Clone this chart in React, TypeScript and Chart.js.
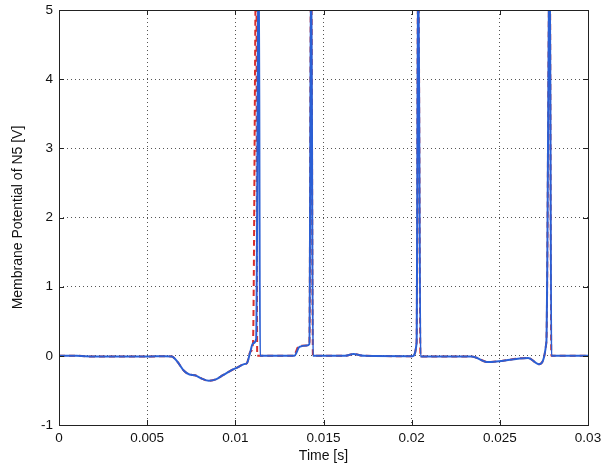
import React, { useEffect, useRef } from "react";
import { Chart, registerables } from "chart.js";

Chart.register(...registerables);

// Time [s] and membrane potential [V] for the blue (solid) trace
const blueT = [
  0, 0.001, 0.002, 0.003, 0.004, 0.005, 0.006, 0.0064, 0.0067, 0.0071, 0.0074, 0.0077, 0.0081, 0.0085,
  0.0089, 0.0093, 0.0097, 0.0101, 0.0105, 0.01066, 0.01085, 0.011, 0.01118, 0.01133, 0.0114,
  0.01334, 0.01364, 0.01406, 0.0142, 0.0143, 0.0144,
  0.0162, 0.0167, 0.0173, 0.02005, 0.02028, 0.02037, 0.0205,
  0.0234, 0.02433, 0.0266, 0.02722, 0.02764, 0.02783, 0.02792, 0.03,
];
const blueV = [
  0, 0, -0.01, -0.01, -0.01, -0.01, -0.005, -0.01, -0.08, -0.22, -0.27, -0.28, -0.33, -0.36,
  -0.34, -0.28, -0.22, -0.17, -0.12, -0.105, 0.06, 0.18, 0.24, 6, 0,
  0, 0.13, 0.15, 0.17, 6, 0,
  0, 0.025, 0, -0.005, 0.19, 6, -0.01,
  -0.01, -0.09, -0.03, -0.12, 0.2, 6, 0, 0,
];

// Red (dashed) trace: fires its first spike slightly earlier
const redT = [
  0, 0.001, 0.002, 0.003, 0.004, 0.005, 0.006, 0.0064, 0.0067, 0.0071, 0.0074, 0.0077, 0.0081, 0.0085,
  0.0089, 0.0093, 0.0097, 0.0101, 0.0105, 0.01066, 0.01085, 0.011, 0.01119, 0.01124,
  0.0133, 0.0136, 0.01406, 0.0142, 0.0143, 0.0144,
  0.0162, 0.0167, 0.0173, 0.02005, 0.02028, 0.02037, 0.0205,
  0.0234, 0.02433, 0.0266, 0.02722, 0.02764, 0.02783, 0.02792, 0.03,
];
const redV = [
  0, 0, -0.01, -0.01, -0.01, -0.01, -0.005, -0.01, -0.08, -0.22, -0.27, -0.28, -0.33, -0.36,
  -0.34, -0.28, -0.22, -0.17, -0.12, -0.105, 0.06, 0.18, 6, 0,
  0, 0.14, 0.15, 0.17, 6, 0,
  0, 0.025, 0, -0.005, 0.19, 6, -0.01,
  -0.01, -0.09, -0.03, -0.12, 0.2, 6, 0, 0,
];

const xTicks = [0, 0.005, 0.01, 0.015, 0.02, 0.025, 0.03];
const yTicks = [-1, 0, 1, 2, 3, 4, 5];
const xTitle = "Time [s]";
const yTitle = "Membrane Potential of N5 [V]";

const FONT = "'Liberation Sans', Arial, Helvetica, sans-serif";

const boxPlugin = {
  id: "matlabBox",
  afterDraw(chart: any) {
    const { ctx, chartArea } = chart;
    const { left, right, top, bottom } = chartArea;
    ctx.save();
    ctx.strokeStyle = "#222";
    ctx.lineWidth = 1;
    ctx.setLineDash([]);
    ctx.strokeRect(Math.round(left) + 0.5, Math.round(top) + 0.5, Math.round(right - left), Math.round(bottom - top));
    const tl = 5;
    const xs = chart.scales.x;
    const ys = chart.scales.y;
    ctx.beginPath();
    xs.ticks.forEach((t: any) => {
      const px = Math.round(xs.getPixelForValue(t.value)) + 0.5;
      ctx.moveTo(px, bottom);
      ctx.lineTo(px, bottom - tl);
      ctx.moveTo(px, top);
      ctx.lineTo(px, top + tl);
    });
    ys.ticks.forEach((t: any) => {
      const py = Math.round(ys.getPixelForValue(t.value)) + 0.5;
      ctx.moveTo(left, py);
      ctx.lineTo(left + tl, py);
      ctx.moveTo(right, py);
      ctx.lineTo(right - tl, py);
    });
    ctx.stroke();
    ctx.restore();
  },
};

export default function App() {
  const ref = useRef<HTMLCanvasElement | null>(null);
  useEffect(() => {
    if (!ref.current) return;
    const chart = new Chart(ref.current, {
      type: "scatter",
      data: {
        datasets: [
          {
            label: "blue",
            data: blueT.map((t, i) => ({ x: t, y: blueV[i] })),
            showLine: true,
            borderColor: "#2b5fd4",
            borderWidth: 2,
            pointRadius: 0,
            cubicInterpolationMode: "monotone",
            clip: 0 as any,
            order: 0,
          },
          {
            label: "red",
            data: redT.map((t, i) => ({ x: t, y: redV[i] })),
            showLine: true,
            borderColor: "#d9302c",
            borderWidth: 2,
            borderDash: [6, 4],
            pointRadius: 0,
            cubicInterpolationMode: "monotone",
            clip: 0 as any,
            order: 1,
          },
        ],
      },
      options: {
        responsive: false,
        animation: false,
        devicePixelRatio: 1,
        layout: { padding: { top: 10, right: 14, left: 0, bottom: 0 } },
        plugins: { legend: { display: false }, tooltip: { enabled: false } },
        scales: {
          x: {
            type: "linear",
            min: 0,
            max: 0.03,
            afterBuildTicks: (s: any) => {
              s.ticks = xTicks.map((v) => ({ value: v }));
            },
            afterFit: (s: any) => {
              s.height = 45;
              s.paddingLeft = 0;
              s.paddingRight = 0;
            },
            ticks: {
              color: "#111",
              font: { family: FONT, size: 13.5 },
              padding: 5,
              maxRotation: 0,
              autoSkip: false,
              callback: (v: any) => String(Number(Number(v).toFixed(4))),
            },
            grid: { color: "#555", lineWidth: 1, drawTicks: false },
            border: { display: false, dash: [1, 3] },
            title: {
              display: true,
              text: xTitle,
              color: "#111",
              font: { family: FONT, size: 14 },
              padding: { top: 5, bottom: 5 },
            },
          },
          y: {
            type: "linear",
            min: -1,
            max: 5,
            afterBuildTicks: (s: any) => {
              s.ticks = yTicks.map((v) => ({ value: v }));
            },
            afterFit: (s: any) => {
              s.width = 59;
              s.paddingTop = 0;
              s.paddingBottom = 0;
            },
            ticks: {
              color: "#111",
              font: { family: FONT, size: 13.5 },
              padding: 6,
              autoSkip: false,
              callback: (v: any) => String(v),
            },
            grid: { color: "#555", lineWidth: 1, drawTicks: false },
            border: { display: false, dash: [1, 3] },
            title: {
              display: true,
              text: yTitle,
              color: "#111",
              font: { family: FONT, size: 14 },
              padding: { top: 10, bottom: 10 },
            },
          },
        },
      },
      plugins: [boxPlugin],
    });
    return () => chart.destroy();
  }, []);
  return (
    <div style={{ position: "absolute", left: 0, top: 0, width: 602, height: 470, background: "#fff" }}>
      <canvas ref={ref} width={602} height={470} style={{ width: 602, height: 470 }} />
    </div>
  );
}
